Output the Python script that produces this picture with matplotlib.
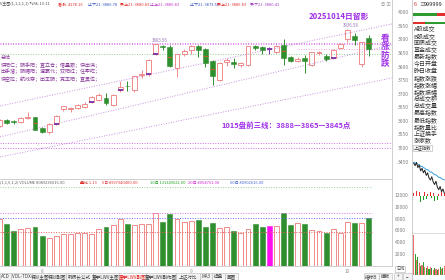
import numpy as np
import matplotlib.pyplot as plt
from matplotlib.patches import Rectangle
from matplotlib.transforms import blended_transform_factory

plt.rcParams['font.family'] = ['Noto Sans CJK SC', 'DejaVu Sans']

# 上证指数 日线 2025-07-24 ~ 2025-10-14
dates = ['07-24', '07-25', '07-28', '07-29', '07-30', '07-31',
         '08-01', '08-04', '08-05', '08-06', '08-07', '08-08', '08-11', '08-12', '08-13', '08-14',
         '08-15', '08-18', '08-19', '08-20', '08-21', '08-22', '08-25', '08-26', '08-27', '08-28', '08-29',
         '09-01', '09-02', '09-03', '09-04', '09-05', '09-08', '09-09', '09-10', '09-11', '09-12',
         '09-15', '09-16', '09-17', '09-18', '09-19', '09-22', '09-23', '09-24', '09-25', '09-26',
         '09-29', '09-30', '10-09', '10-10', '10-13', '10-14']
opens = [3580, 3603, 3598, 3597, 3611, 3614, 3573, 3558, 3590, 3642,
         3643, 3648, 3652, 3670, 3678, 3686, 3660, 3714, 3730, 3714,
         3768, 3773, 3846, 3875, 3872, 3795, 3846, 3860, 3876, 3865,
         3820, 3752, 3818, 3817, 3806, 3806, 3876, 3872, 3866, 3855,
         3880, 3834, 3821, 3832, 3805, 3851, 3840, 3832, 3868, 3902,
         3914, 3808, 3906]
highs = [3606, 3608, 3604, 3613, 3634, 3616, 3576, 3592, 3620, 3656,
         3652, 3662, 3668, 3692, 3703, 3704, 3698, 3746, 3746, 3766,
         3788, 3828, 3883.56, 3880, 3878, 3848, 3866, 3878, 3878, 3868,
         3826, 3815, 3830, 3831, 3818, 3876, 3881, 3876, 3872, 3880,
         3900, 3838, 3834, 3841, 3853, 3858, 3846, 3866, 3888, 3936.58,
         3923, 3892, 3916]
lows = [3576, 3589, 3588, 3592, 3607, 3565, 3555, 3552, 3586, 3638,
        3634, 3644, 3648, 3666, 3674, 3660, 3655, 3706, 3711, 3706,
        3758, 3766, 3843, 3860, 3800, 3762, 3840, 3848, 3835, 3798,
        3732, 3748, 3803, 3795, 3800, 3802, 3862, 3848, 3845, 3850,
        3805, 3816, 3815, 3778, 3802, 3842, 3822, 3828, 3865, 3890,
        3880, 3800, 3840]
closes = [3603, 3593, 3596, 3610, 3616, 3568, 3560, 3589, 3618, 3653,
          3646, 3659, 3664, 3688, 3696, 3666, 3695, 3725, 3727, 3765,
          3773, 3826, 3883, 3871, 3802, 3846, 3857, 3875, 3860, 3813,
          3765, 3813, 3826, 3810, 3813, 3875, 3870, 3860, 3866, 3877,
          3833, 3821, 3828, 3820, 3852, 3853, 3828, 3862, 3882, 3934,
          3897, 3889, 3865]
volumes = [7890, 7050, 5970, 6200, 6370, 6540, 5120, 4680, 5070, 5360,
           5410, 5630, 5530, 5410, 6250, 6540, 6930, 7890, 7050, 6930,
           7050, 7100, 8910, 7490, 8740, 7940, 7390, 7600, 7770, 6540,
           7220, 6370, 6640, 5970, 5530, 6200, 7100, 6540, 6760, 6760,
           8910, 6930, 7320, 7100, 6080, 5970, 5530, 6200, 5630, 7390,
           7220, 7220, 8060]

open_marks = [8, 13, 17, 21, 22, 47]          # 紫色开盘标记
top_lines = [3888, 3882]                      # 压力线
mid_line = 3865
support_line = 3845
low_lines = [3518, 3500]
channel_start = [3655, 3541, 3467]            # 通道线 左端
channel_end = [3957, 3880, 3758]              # 通道线 右端
peak_labels = [(22, '3883.56'), (49, '3936.58')]
vol_lines = [8910, 8060, 5700]
vol_line_colors = ['#e070e8', '#6a6aff', '#e86060']
vol_top_line = 13350

price_ticks = [3450, 3500, 3550, 3600, 3650, 3700, 3750, 3800, 3850, 3900, 3950, 4000]
vol_ticks = [2000, 4000, 6000, 8000, 10000, 12000]

# 右侧分时小图
intraday_px = [3912, 3908, 3913, 3905, 3909, 3900, 3904, 3897, 3901, 3893, 3897, 3889,
               3886, 3891, 3883, 3879, 3884, 3875, 3871, 3876, 3868, 3872, 3866]
intraday_avg = [3913, 3912, 3912, 3910, 3909, 3907, 3907, 3905, 3904, 3902, 3902, 3900,
                3898, 3898, 3896, 3894, 3894, 3892, 3890, 3890, 3888, 3887, 3886]
intraday_force = [5, -7, 8, -4, 6, -9, 3, -6, 7, -5, 4, -8, 6, -3, 5, -7, 4, -6, 3, -5, 6, -4, 5]
intraday_vol = [38, 20, 14, 17, 11, 9, 10, 12, 8, 7, 9, 6, 8, 7, 5, 7, 6, 5, 6, 8, 6, 7, 9]
prev_close = 3861

side_items = ['A股成交', 'B股成交', '国债成交', '基金成交', '最新指数', '今日开盘', '昨日收盘',
              '指数涨跌', '指数涨幅', '指数振幅', '总成交额', '总成交量', '最高指数', '最低指数',
              '指数量比', '上证换手', '涨家数']
tabs = ['ACD', 'VOL-TDX', '特训主图', '特训副图', '韩师长公式', '董学LWV主图', '董学LWV副图',
        '董学LWV副作图', '上证对比', 'MA3', '操盘', '画图']
tab_widths = [11, 21, 17, 17, 27, 26, 27, 30, 24, 12, 13, 13]

UP = '#f08a8a'
DN = '#2f8f2f'
DOJI = '#7a2fa0'
VIOLET = '#a030e8'
W, H = 445, 280

fig = plt.figure(figsize=(W / 100, H / 100), dpi=100)
fig.patch.set_facecolor('white')


def px_axes(x0, y0, x1, y1):
    return fig.add_axes([x0 / W, 1 - y1 / H, (x1 - x0) / W, (y1 - y0) / H])


n = len(closes)
idx = np.arange(n)
xl = (0.07, 55.28)
bw = 0.7

# ---- 主图 K线
ax = px_axes(0, 9, 392, 179)
ax.set_xlim(*xl)
ax.set_ylim(3386, 4012)
for i in idx:
    o, h, l, c = opens[i], highs[i], lows[i], closes[i]
    if c > o:
        ax.add_patch(Rectangle((i - bw / 2, o), bw, c - o, fill=False, ec=UP, lw=0.7, zorder=3))
        ax.vlines(i, c, h, color=UP, lw=0.7, zorder=3)
        ax.vlines(i, l, o, color=UP, lw=0.7, zorder=3)
    elif c < o:
        ax.vlines(i, l, h, color=DN, lw=0.7, zorder=3)
        ax.add_patch(Rectangle((i - bw / 2, c), bw, o - c, fc=DN, ec=DN, lw=0.4, zorder=3))
        if o - c > 25:
            ax.hlines((o + c) / 2, i - bw / 2, i + bw / 2, color='#b8642a', lw=0.8, zorder=4)
    else:
        ax.vlines(i, l, h, color=DOJI, lw=0.7, zorder=3)
        ax.hlines(o, i - bw / 2, i + bw / 2, color=DOJI, lw=1.3, zorder=4)
for i in open_marks:
    ax.hlines(opens[i], i - bw / 2, i + bw / 2, color=DOJI, lw=1.3, zorder=4)

dot = (0, (1, 1.6))
for v in top_lines:
    ax.axhline(v, color='#d878e8', lw=0.7, ls=dot, zorder=2)
ax.hlines(mid_line, 42, xl[1], color='#f0a0d8', lw=0.7, ls=dot, zorder=2)
ax.axhline(support_line, color='#8fd08f', lw=0.7, ls=dot, zorder=2)
for v in low_lines:
    ax.axhline(v, color='#d070e0', lw=0.7, ls=dot, zorder=2)
for p0, p1 in zip(channel_start, channel_end):
    ax.plot(xl, [p0, p1], color='#c890e0', lw=0.7, ls=dot, zorder=2)
for i, s in peak_labels:
    ax.text(i - 0.6, highs[i] + 4, s, fontsize=3.2, color='#9a78b8', va='bottom', zorder=5)

ax.text(0.94, 0.985, '20251014日留影', transform=ax.transAxes, ha='right', va='top',
        fontsize=5.6, color=VIOLET, fontweight='bold')
ax.text(0.565, 0.315, '1015盘前三线：3888—3865—3845点', transform=ax.transAxes,
        fontsize=5.4, color=VIOLET, fontweight='bold', va='center')
summary = ['总结',
           '快阳仁；阴手阳；直立仓；借量跟；快出满；',
           '出手溜；阴糖阳；速赢代；双阳红；住牢吃；',
           '快空拉；航线穿；出丰阴；克丰阳；直黑位；']
for k, s in enumerate(summary):
    ax.text(0.002, 0.712 - k * 0.041, s, transform=ax.transAxes, fontsize=3.6,
            color='#8a3a9a', va='center')

ax.yaxis.tick_right()
ax.set_yticks(price_ticks)
ax.set_yticklabels([str(v) for v in price_ticks])
ax.tick_params(axis='y', length=0, pad=4, labelsize=3.6, labelcolor='#808080')
ax.set_xticks([])
for side in ['top', 'left']:
    ax.spines[side].set_visible(False)
for side in ['right', 'bottom']:
    ax.spines[side].set_color('#c8c8c8')
    ax.spines[side].set_linewidth(0.6)

# ---- 成交量
vx = px_axes(0, 180, 392, 266)
vx.set_xlim(*xl)
vx.set_ylim(0, 14534)
for i in idx:
    if closes[i] > opens[i]:
        vx.add_patch(Rectangle((i - bw / 2, 0), bw, volumes[i], fill=False, ec=UP, lw=0.7))
    elif closes[i] < opens[i]:
        vx.add_patch(Rectangle((i - bw / 2, 0), bw, volumes[i], fc=DN, ec=DN, lw=0.4))
    else:
        vx.add_patch(Rectangle((i - bw / 2, 0), bw, volumes[i], fc='#ff10f0', ec='#ff10f0', lw=0.4))
for v, col in zip(vol_lines, vol_line_colors):
    vx.hlines(v, xl[0], n - 0.5, color=col, lw=0.7, ls=dot)
vx.hlines(vol_top_line, xl[0], n - 0.5, color='#8fd08f', lw=0.7, ls=dot)
vx.yaxis.tick_right()
vx.set_yticks(vol_ticks)
vx.set_yticklabels([str(v) for v in vol_ticks])
vx.tick_params(axis='y', length=0, pad=2, labelsize=3.6, labelcolor='#808080')
vx.set_xticks([])
for side in ['top', 'left']:
    vx.spines[side].set_visible(False)
for side in ['right', 'bottom']:
    vx.spines[side].set_color('#c8c8c8')
    vx.spines[side].set_linewidth(0.6)
tr = blended_transform_factory(vx.transData, vx.transAxes)
for i in idx[1:]:
    if dates[i][:2] != dates[i - 1][:2]:
        vx.text(i, -0.035, str(int(dates[i][:2])), transform=tr, ha='center', va='top',
                fontsize=3.4, color='#909090')

# ---- 右侧分时小图
mx = px_axes(413, 152, 445, 232)
t = np.arange(len(intraday_px))
mx.set_xlim(-0.5, len(t) - 0.5)
mx.set_ylim(3806, 3929)
mx.bar(t, intraday_force, bottom=prev_close, width=0.5,
       color=['#e03030' if f > 0 else '#20a020' for f in intraday_force])
mx.plot(t, intraday_avg, color='#3aa0e0', lw=0.7)
mx.plot(t, intraday_px, color='#202020', lw=0.7)
mx.axis('off')

ml = px_axes(413, 233, 445, 275)
ml.set_xlim(-0.5, len(t) - 0.5)
ml.set_ylim(0, 40)
ml.bar(t, intraday_vol, width=0.8,
       color=['#f07070' if f > 0 else '#30a030' for f in intraday_force])
ml.axis('off')

# ---- 文字与框线
ov = fig.add_axes([0, 0, 1, 1])
ov.set_xlim(0, W)
ov.set_ylim(H, 0)
ov.axis('off')

ov.plot([412, 412], [0, H], color='#c8c8c8', lw=0.6)
ov.plot([392, 392], [0, 9], color='#c8c8c8', lw=0.6)
ov.plot([413, 445], [232.5, 232.5], color='#d0d0d0', lw=0.5)

head = [(0, 'V主图(1,1,2,1,1) 均线: 19.11', '#505050'), (58, '看涨: 4278.16', '#e03030'),
        (88, '止下21: 3886.78', '#3050c0'), (120, '买上21: 3880.83', '#e03030'),
        (150, '止上21: 3886.83', '#c030c0'), (190, '止下21: 3873.56', '#3050c0'),
        (217, '买上21: 3885.83', '#e03030'), (250, '买下21: 3880.41', '#a040c0')]
for x, s, col in head:
    ov.text(x, 4.5, s, fontsize=2.9, color=col, va='center')
ov.text(381, 4.5, '◎ ▣', fontsize=3.2, color='#a0a0a0', va='center')

vhead = [(0, '(1,1,6,1,2) VOLUME 8089236016.00', '#606060'), (80, '量比 1.13', '#e03030'),
         (102, '5日 8997340400.00', '#e03030'), (150, '10日 131349622.00', '#20a020'),
         (188, '20日 8054761.00', '#d020d0'), (230, '60日 80902616.00', '#4060d0')]
for x, s, col in vhead:
    ov.text(x, 182.5, s, fontsize=2.9, color=col, va='center')

ov.text(385, 51, '看\n涨\n防\n跌', fontsize=6.2, color=VIOLET, fontweight='bold',
        ha='center', va='center', linespacing=0.95)

ov.text(414, 5, '6', fontsize=4, color='#e03030', va='center')
ov.text(419, 5, '≡', fontsize=4, color='#707070', va='center')
ov.text(424, 5, '999999', fontsize=4, color='#202020', va='center')
ov.add_patch(Rectangle((413, 13), 24, 2.5, color='#2f9a2f', lw=0))
ov.add_patch(Rectangle((437, 13), 8, 2.5, color='#e03030', lw=0))
ov.add_patch(Rectangle((413, 21.5), 12, 2.5, color='#e03030', lw=0))
ov.add_patch(Rectangle((425, 21.5), 20, 2.5, color='#2f9a2f', lw=0))
for k, s in enumerate(side_items):
    ov.text(413.5, 28.5 + k * 7.05, s, fontsize=4.3, color='#303030', va='center')
ov.text(414, 148, '上证指数', fontsize=3.2, color='#303030', va='center',
        bbox=dict(boxstyle='square,pad=0.15', fc='white', ec='#b0b0b0', lw=0.4))

# 底部标签栏
x = 0
for s, w in zip(tabs, tab_widths):
    active = s == '董学LWV副图'
    ov.add_patch(Rectangle((x, 272.5), w, 7.5, fc='white' if active else '#f3f3f3',
                           ec='#b8b8b8', lw=0.4))
    ov.text(x + w / 2, 276.3, s, fontsize=3.3, ha='center', va='center',
            color='#e02020' if active else '#404040')
    x += w
for s, x0, w in [('指标B', 364, 15), ('模板', 379, 13), ('+', 394, 8), ('−', 403, 9)]:
    ov.add_patch(Rectangle((x0, 272.5), w, 7.5, fc='#f3f3f3', ec='#b8b8b8', lw=0.4))
    ov.text(x0 + w / 2, 276.3, s, fontsize=3.3, ha='center', va='center', color='#404040')
ov.text(400, 269, '日线', fontsize=3, ha='center', va='center', color='#404040',
        bbox=dict(boxstyle='square,pad=0.15', fc='white', ec='#b0b0b0', lw=0.4))

plt.savefig('out.png', dpi=100)
